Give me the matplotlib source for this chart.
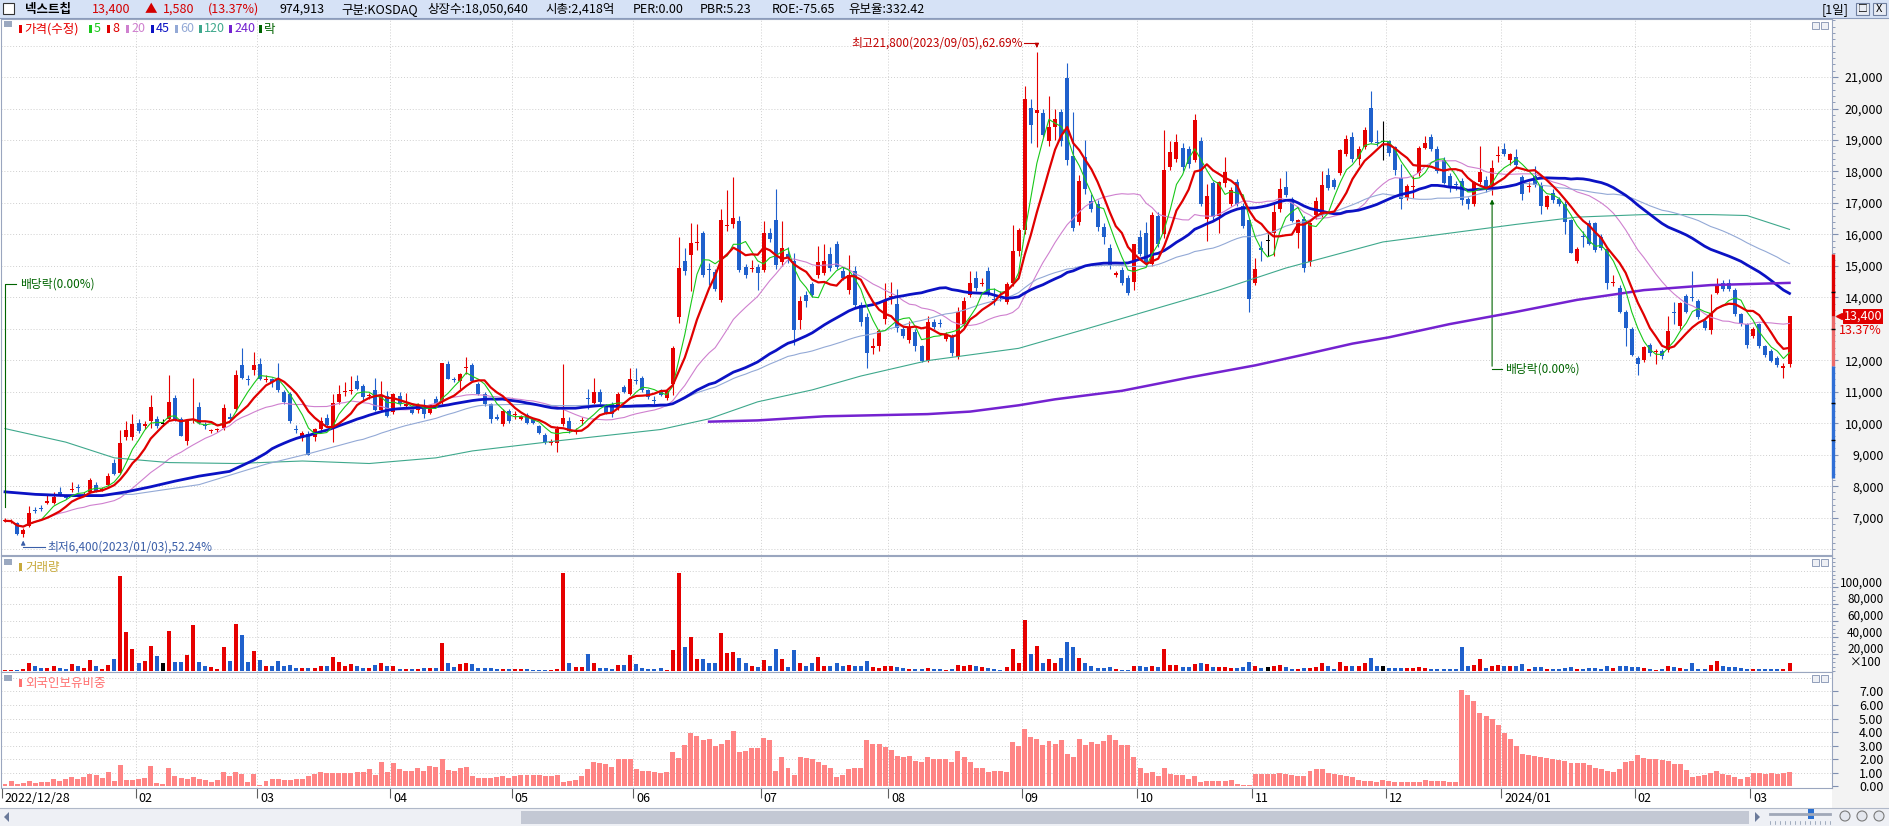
import numpy as np
import pandas as pd
import matplotlib
matplotlib.use("Agg")
import matplotlib.pyplot as plt
import matplotlib.transforms as mtrans
from matplotlib.patches import Rectangle, Polygon, Circle
from matplotlib.ticker import MultipleLocator

plt.rcParams['font.family'] = ['Noto Sans CJK KR', 'DejaVu Sans']
plt.rcParams['font.size'] = 9

# daily candles 2022/12/28 .. 2024/03/12
opens = [
    6880, 6860, 6830, 6480, 6740, 7250, 7300, 7480, 7480, 7820,
    7690, 7880, 7960, 7730, 7820, 8050, 7880, 8050, 8750, 8410,
    9550, 9560, 10020, 9920, 10060, 10140, 9990, 10140, 10800, 10140,
    9420, 10100, 10520, 9940, 9760, 9780, 9860, 10200, 10450, 11840,
    11400, 11680, 11870, 11380, 11400, 11370, 10990, 10940, 9830, 9520,
    9670, 9550, 9830, 10180, 9900, 10680, 10980, 11020, 11340, 11190,
    10850, 11060, 10420, 10880, 10370, 10880, 10560, 10480, 10420, 10570,
    10320, 10760, 10680, 11870, 11400, 11340, 11760, 11840, 11250, 10940,
    10600, 10200, 9980, 10400, 10250, 10150, 10260, 10120, 9900, 9640,
    9380, 9360, 9980, 10060, 9730, 10080, 10780, 10630, 10990, 10570,
    10600, 10480, 11150, 10940, 11350, 11430, 11060, 10740, 11030, 10790,
    11250, 13380, 15160, 15360, 15720, 16040, 14900, 14820, 13920, 16270,
    16320, 16440, 14960, 14900, 14970, 14880, 16040, 16470, 15110, 15390,
    15160, 13270, 14080, 14430, 14700, 14770, 15390, 15700, 14850, 14230,
    14850, 13770, 13380, 12400, 12450, 13300, 14000, 13800, 12990, 12640,
    12890, 12450, 11990, 13230, 13180, 12690, 12760, 12110, 13150, 14080,
    14620, 14430, 14850, 13950, 14000, 13840, 14460, 15470, 16130, 20020,
    19850, 19870, 18970, 19400, 19900, 20980, 18480, 16390, 18450, 17060,
    16960, 16240, 15580, 14720, 14880, 14620, 14490, 15930, 16040, 15050,
    16580, 16010, 18140, 18400, 18740, 18710, 18360, 18970, 16500, 17630,
    16590, 17630, 16970, 17680, 16900, 16470, 14460, 15560, 15780, 16040,
    16810, 17520, 17120, 16040, 16500, 15110, 16630, 16630, 17890, 17740,
    17940, 18560, 19100, 18400, 18790, 20020, 18950, 18940, 18970, 18790,
    17780, 17170, 17500, 17940, 18740, 19100, 18710, 18360, 17860, 17600,
    17710, 17120, 16970, 17680, 17740, 17580, 18480, 18710, 18360, 18450,
    17830, 17500, 17860, 17580, 16860, 17320, 17120, 16970, 16470, 15160,
    15950, 16350, 16350, 15930, 15540, 14450, 14310, 13540, 12990, 12070,
    12020, 12490, 12250, 12300, 12330, 13520, 13080, 14030, 14000, 13880,
    13260, 12950, 14150, 14460, 14460, 14230, 13460, 13150, 12760, 13150,
    12450, 12300, 12070, 11760, 11870,
]
highs = [
    7000, 6950, 6860, 6680, 7360, 7330, 7400, 7740, 7820, 7980,
    7740, 8130, 8080, 7800, 8250, 8120, 7960, 8430, 8850, 9800,
    10080, 10290, 10130, 10060, 10910, 10240, 10130, 11530, 10900, 10200,
    10150, 11450, 10680, 10050, 9830, 9860, 10600, 10330, 11680, 12380,
    11530, 12270, 12070, 11530, 11450, 11900, 11060, 11000, 9950, 9740,
    9740, 9850, 10200, 10290, 10920, 11220, 11300, 11500, 11540, 11250,
    10960, 11440, 11340, 11010, 10960, 10990, 10950, 10560, 10640, 10760,
    10580, 10880, 11910, 11990, 11480, 11600, 12120, 11900, 11300, 11000,
    10650, 10300, 10450, 10450, 10400, 10250, 10320, 10150, 9950, 9680,
    9500, 9900, 11870, 10200, 9850, 10200, 11100, 11450, 11080, 10620,
    10680, 11000, 11200, 11760, 11760, 11500, 11100, 10850, 11100, 11100,
    12450, 15930, 15570, 16350, 16320, 16100, 15080, 14900, 16800, 17400,
    17820, 16600, 15050, 15200, 15050, 16440, 16200, 17430, 16420, 15600,
    15400, 14050, 14200, 14500, 15620, 15700, 15600, 15800, 14950, 15360,
    15000, 13850, 13500, 12700, 13000, 14460, 14500, 14260, 13100, 13250,
    13000, 12500, 13400, 13300, 13300, 12900, 12850, 13700, 14000, 14850,
    14850, 14600, 14950, 14300, 14200, 14500, 16300, 16200, 20720, 20300,
    21800, 20000, 20400, 20000, 20000, 21450, 19900, 17900, 19000, 17300,
    17100, 16350, 15700, 14850, 14950, 14700, 15700, 16150, 16400, 16700,
    16700, 19330, 18970, 19200, 18900, 18800, 19840, 19100, 17600, 17700,
    17700, 18450, 17500, 17750, 17000, 16500, 15260, 15800, 16000, 17000,
    17780, 18000, 17200, 16500, 16600, 16400, 17200, 18000, 18100, 17800,
    18700, 19170, 19250, 18800, 19400, 20560, 19330, 19590, 19000, 18800,
    18250, 17600, 17860, 18800, 19130, 19200, 18800, 18450, 17950, 17700,
    17800, 17200, 17700, 18800, 17850, 18360, 18800, 18900, 18600, 18700,
    17900, 17650, 18170, 17650, 17250, 17450, 17200, 17050, 16500, 15600,
    16100, 16450, 16400, 16000, 15600, 14700, 14400, 13600, 13050, 12150,
    12450, 12550, 12350, 12350, 13400, 13850, 13850, 14100, 14850, 13950,
    13300, 14120, 14620, 14550, 14580, 14300, 13500, 13200, 13050, 13200,
    12500, 12350, 12150, 11900, 13420,
]
lows = [
    6850, 6830, 6440, 6400, 6700, 7150, 7220, 7420, 7430, 7700,
    7600, 7820, 7830, 7700, 7780, 7830, 7850, 7990, 8360, 8380,
    9480, 9480, 9700, 9830, 9840, 9840, 9900, 10080, 10080, 9580,
    9300, 10000, 9980, 9820, 9700, 9730, 9800, 10080, 10380, 11400,
    11220, 11530, 11360, 11300, 11150, 11000, 10600, 10000, 9690, 9420,
    8980, 9450, 9760, 9900, 9400, 10600, 10880, 10940, 11050, 10700,
    10760, 10400, 10380, 10200, 10300, 10560, 10500, 10300, 10340, 10180,
    10290, 10580, 10620, 11400, 11300, 11100, 11550, 11300, 10900, 10560,
    10000, 10100, 9900, 10000, 10150, 10100, 9960, 9980, 9650, 9330,
    9300, 9090, 9900, 9700, 9650, 9950, 10450, 10600, 10600, 10280,
    10200, 10420, 10950, 10900, 11250, 11000, 10780, 10600, 10850, 10750,
    10900, 13180, 14700, 14200, 15500, 14650, 14380, 14200, 13850, 16100,
    16200, 14800, 14600, 14800, 14230, 14800, 15750, 14900, 15000, 15100,
    12480, 13000, 13700, 14000, 14600, 14700, 14850, 14900, 14550, 14100,
    13700, 13100, 11760, 12200, 12300, 13150, 13800, 12900, 12700, 12550,
    12300, 11950, 11950, 13000, 13050, 12600, 12150, 12050, 13050, 14000,
    14200, 14350, 14050, 13750, 13900, 13800, 14350, 15300, 16000, 18900,
    18790, 19100, 18800, 19000, 18800, 18200, 16100, 16300, 17300, 16700,
    16100, 15700, 14900, 14650, 14400, 14080, 14230, 15300, 15000, 15000,
    15600, 15900, 18050, 18300, 18000, 18100, 18300, 16900, 15780, 16450,
    16040, 17500, 16900, 16900, 16200, 13540, 14400, 15150, 15300, 15300,
    16700, 17200, 16400, 15580, 14800, 15000, 16500, 16550, 17400, 17450,
    17900, 18500, 18300, 18200, 18700, 18900, 18800, 18350, 18500, 17900,
    16800, 17100, 17150, 17850, 18700, 18650, 17950, 17600, 17350, 17400,
    16950, 16800, 16900, 17600, 17350, 17250, 18300, 18500, 18200, 18100,
    17100, 17350, 17500, 16650, 16800, 17000, 16900, 16000, 15400, 15100,
    15600, 15650, 15450, 15500, 14280, 14350, 13500, 12450, 12150, 11530,
    11950, 12150, 11870, 12050, 12250, 13150, 13000, 13500, 13900, 13300,
    12950, 12840, 14100, 14200, 14200, 13400, 13100, 12400, 12700, 12400,
    12100, 11950, 11800, 11450, 11780,
]
closes = [
    6900, 6880, 6480, 6600, 7160, 7200, 7260, 7520, 7670, 7700,
    7640, 7910, 7930, 7760, 8210, 7860, 7900, 8320, 8380, 9370,
    9800, 9990, 9750, 9960, 10520, 9900, 9990, 10680, 10100, 9600,
    10060, 10150, 10020, 9900, 9790, 9810, 10480, 10140, 11530, 11450,
    11360, 11840, 11400, 11420, 11300, 11060, 10680, 10060, 9800, 9700,
    8980, 9830, 10060, 9950, 10630, 10940, 11030, 11070, 11100, 10830,
    10900, 10420, 10880, 10220, 10940, 10600, 10620, 10320, 10570, 10290,
    10570, 10600, 11910, 11400, 11360, 11560, 11790, 11340, 10940, 10600,
    10140, 10140, 10400, 10060, 10290, 10190, 10020, 10000, 9700, 9400,
    9400, 9830, 10180, 9750, 9760, 10100, 10760, 10990, 10680, 10320,
    10290, 10940, 10990, 11400, 11330, 11060, 10820, 10720, 10910, 11030,
    12380, 14930, 14850, 15740, 15760, 14700, 14880, 14260, 16470, 16300,
    16520, 14880, 14700, 14930, 14770, 16040, 15850, 15030, 15580, 15240,
    12960, 13890, 13890, 14080, 15130, 15140, 14930, 14960, 14620, 14700,
    13770, 13230, 12220, 12450, 12920, 13890, 14030, 13040, 12760, 13040,
    12450, 11990, 13230, 13070, 13150, 12840, 12220, 13540, 13870, 14460,
    14310, 14460, 14150, 13920, 13970, 14430, 15470, 16130, 20290, 19480,
    19940, 19170, 19400, 19670, 18970, 18360, 16190, 17700, 17430, 16810,
    16240, 15930, 15030, 14770, 14460, 14150, 15700, 15390, 15050, 16620,
    15700, 18050, 18630, 18940, 18140, 18250, 19640, 16960, 17210, 16550,
    17670, 17970, 17400, 16970, 16280, 13950, 14900, 15510, 15780, 16700,
    17430, 17240, 16440, 16470, 14930, 16350, 17060, 17580, 17470, 17520,
    18670, 19020, 18400, 18710, 19330, 18940, 18910, 18940, 18600, 18050,
    17120, 17550, 17520, 18740, 18910, 18710, 18020, 17630, 17470, 17580,
    17090, 16970, 17680, 17970, 17430, 18120, 18510, 18560, 18560, 18200,
    17280, 17520, 17580, 16900, 17210, 17090, 16970, 16390, 15420, 15540,
    15930, 15700, 15510, 15580, 14460, 14490, 13540, 13040, 12170, 11870,
    12420, 12220, 12270, 12150, 12920, 13500, 13820, 13540, 13970, 13380,
    13040, 13500, 14380, 14280, 14280, 13460, 13150, 12490, 12990, 12450,
    12180, 11990, 11840, 11820, 13400,
]
# 거래량, in thousands of the axis unit (axis is x100 shares)
volume_k = [
    1.2, 1.2, 1.2, 1.7, 9.9, 5.2, 3.5, 2.9, 5.2, 3.5,
    2.3, 8.1, 5.8, 2.9, 12.8, 5.2, 2.3, 7.0, 13.9, 114,
    46.4, 26.1, 9.9, 11.6, 30.2, 17.4, 9.3, 47.6, 10.4, 10.4,
    18.6, 54.5, 10.4, 5.2, 4.6, 2.3, 28.4, 11.6, 55.7, 42.9,
    10.4, 23.8, 13.3, 5.8, 5.2, 12.2, 5.8, 7.0, 3.5, 3.5,
    3.5, 3.5, 5.2, 5.2, 16.8, 10.4, 5.2, 8.1, 5.2, 3.5,
    3.5, 6.4, 9.9, 5.2, 5.2, 2.3, 2.3, 1.7, 2.3, 3.5,
    3.5, 3.5, 33.1, 9.3, 4.1, 8.1, 9.9, 8.1, 3.5, 2.9,
    2.9, 2.3, 2.3, 1.7, 2.3, 1.7, 1.7, 1.2, 1.2, 1.2,
    1.2, 2.3, 117, 9.9, 4.6, 4.6, 19.7, 9.3, 3.5, 3.5,
    2.3, 6.4, 6.4, 18.6, 8.1, 3.5, 2.3, 2.3, 3.5, 1.2,
    24.4, 117, 29.0, 40.6, 13.9, 14.5, 9.3, 9.3, 44.7, 20.9,
    22.6, 15.7, 9.3, 5.2, 4.1, 12.8, 5.2, 26.1, 14.5, 4.6,
    24.4, 9.3, 5.2, 9.9, 16.8, 5.2, 5.2, 9.3, 5.2, 6.4,
    5.2, 5.2, 11.6, 4.1, 2.9, 5.2, 5.2, 4.1, 2.9, 1.7,
    2.3, 2.3, 3.5, 2.3, 1.7, 1.2, 2.3, 7.0, 5.2, 6.4,
    5.8, 4.1, 3.5, 2.3, 1.2, 4.1, 26.1, 9.9, 60.9, 19.7,
    30.2, 9.9, 13.9, 9.3, 15.1, 34.2, 28.4, 15.7, 9.9, 5.2,
    3.5, 3.5, 4.1, 2.3, 1.2, 1.2, 5.2, 5.2, 4.1, 5.2,
    4.1, 25.5, 7.0, 7.0, 4.1, 4.1, 8.7, 9.3, 8.7, 4.1,
    4.1, 4.6, 3.5, 3.5, 4.1, 10.4, 5.8, 3.5, 4.1, 5.2,
    7.5, 4.1, 2.3, 2.3, 3.5, 3.5, 4.1, 9.9, 5.2, 2.3,
    11.0, 5.8, 5.2, 5.2, 9.9, 15.1, 5.8, 5.8, 3.5, 3.5,
    3.5, 2.9, 2.9, 4.6, 3.5, 2.3, 2.3, 2.3, 2.3, 2.3,
    29.0, 5.2, 7.0, 13.9, 3.5, 5.8, 7.0, 5.8, 5.2, 5.8,
    8.1, 2.3, 4.6, 4.6, 2.3, 2.3, 2.3, 3.5, 4.6, 1.7,
    2.3, 3.5, 3.5, 2.3, 5.8, 2.9, 5.8, 5.8, 4.6, 4.6,
    3.5, 2.3, 1.2, 2.3, 5.8, 4.6, 3.5, 2.3, 9.3, 2.3,
    2.3, 7.0, 11.6, 5.8, 4.6, 4.6, 3.5, 2.3, 2.3, 2.3,
    2.3, 2.3, 2.3, 2.3, 9.3,
]
# 외국인보유비중 (%)
foreign_pct = [
    0.18, 0.36, 0.18, 0.25, 0.36, 0.25, 0.29, 0.32, 0.5, 0.39,
    0.54, 0.65, 0.54, 0.65, 0.86, 0.79, 0.57, 1.08, 0.36, 1.54,
    0.43, 0.43, 0.54, 0.61, 1.5, 0.25, 0.18, 1.33, 0.72, 0.61,
    0.54, 0.65, 0.54, 0.43, 0.29, 0.43, 1.04, 0.72, 1.04, 0.9,
    0.32, 0.9, 0.07, 0.36, 0.54, 0.5, 0.43, 0.43, 0.5, 0.54,
    0.72, 0.9, 1.08, 1.0, 1.0, 0.97, 0.97, 1.0, 1.08, 1.08,
    1.29, 0.79, 1.79, 1.08, 1.72, 1.25, 1.15, 1.15, 1.36, 1.15,
    1.5, 1.4, 2.0, 1.18, 1.15, 1.33, 1.43, 0.72, 0.61, 0.61,
    0.61, 0.65, 0.72, 0.61, 0.72, 0.79, 0.79, 0.79, 0.79, 0.72,
    0.72, 0.79, 0.29, 0.36, 0.43, 0.72, 1.25, 1.79, 1.72, 1.61,
    1.43, 1.97, 1.97, 2.04, 1.25, 1.15, 1.15, 1.08, 1.0, 1.08,
    2.51, 2.08, 3.05, 3.94, 3.69, 3.4, 3.48, 2.94, 3.15, 3.4,
    4.05, 2.51, 2.62, 2.8, 2.8, 3.58, 3.4, 1.15, 2.15, 1.36,
    0.79, 2.15, 2.08, 1.97, 1.79, 1.54, 1.36, 0.65, 0.79, 1.25,
    1.36, 1.33, 3.4, 3.12, 3.15, 2.87, 2.69, 2.22, 2.15, 2.22,
    1.86, 1.79, 2.15, 1.97, 1.97, 1.97, 1.79, 2.58, 2.15, 1.79,
    1.36, 1.36, 1.08, 1.15, 1.15, 1.08, 3.23, 2.97, 4.23, 3.66,
    3.51, 3.05, 3.33, 3.15, 3.4, 2.4, 2.15, 3.48, 3.05, 3.23,
    3.15, 3.3, 3.76, 3.4, 3.05, 3.05, 2.15, 1.36, 1.0, 1.08,
    0.72, 1.36, 0.9, 0.79, 0.79, 0.54, 0.72, 0.29, 0.36, 0.36,
    0.36, 0.36, 0.43, 0.18, 0.11, 0.11, 0.9, 0.9, 0.9, 0.9,
    0.97, 0.9, 0.79, 0.72, 0.72, 1.15, 1.25, 1.25, 1.0, 0.9,
    0.79, 0.72, 0.65, 0.43, 0.36, 0.36, 0.29, 0.43, 0.36, 0.29,
    0.29, 0.29, 0.29, 0.29, 0.47, 0.36, 0.36, 0.36, 0.29, 0.29,
    7.1, 6.74, 6.27, 5.38, 5.2, 4.95, 4.55, 3.94, 3.51, 2.97,
    2.4, 2.33, 2.26, 2.15, 2.08, 2.0, 1.9, 1.86, 1.72, 1.72,
    1.72, 1.54, 1.36, 1.25, 1.15, 1.08, 1.25, 1.79, 1.86, 2.33,
    2.08, 1.97, 1.97, 1.9, 1.86, 1.61, 1.61, 1.18, 0.65, 0.72,
    0.82, 1.0, 1.15, 0.9, 0.79, 0.65, 0.54, 0.65, 1.0, 0.97,
    0.9, 1.0, 0.9, 1.0, 1.08,
]

# first candle of each month and its label
month_start = [0, 22, 42, 64, 84, 104, 125, 146, 168, 187, 206, 228, 247, 269, 288]
month_labels = ['2022/12/28', '02', '03', '04', '05', '06', '07', '08',
                '09', '10', '11', '12', '2024/01', '02', '03']

# price scale labels shown (13,000 is hidden behind the current-price box)
price_ticks = [7000, 8000, 9000, 10000, 11000, 12000, 14000, 15000, 16000, 17000,
               18000, 19000, 20000, 21000]

# moving averages whose history starts before the window: values
ma45_head_idx = [0, 5, 10, 16, 20, 24, 28, 32, 37, 41, 43]
ma45_head_val = [7820, 7740, 7700, 7700, 7820, 7980, 8160, 8320, 8470, 8830, 9050]
ma60_head_idx = [0, 10, 21, 32, 43, 50, 58]
ma60_head_val = [7800, 7720, 7740, 8050, 8700, 9030, 9450]
ma120_idx = [0, 10, 18, 27, 38, 49, 60, 71, 77, 91, 108, 116, 124, 133, 141, 152, 167,
             178, 189, 200, 211, 227, 238, 249, 259, 270, 281, 287, 294]
ma120_val = [9830, 9400, 8900, 8750, 8720, 8800, 8720, 8900, 9120, 9440, 9800, 10140,
             10680, 11060, 11500, 11990, 12380, 12990, 13610, 14230, 14930, 15760, 16040,
             16320, 16550, 16630, 16630, 16600, 16160]
ma240_idx = [116, 124, 135, 152, 159, 167, 173, 184, 189, 195, 206, 214, 222, 228, 238,
             249, 259, 270, 281, 294]
ma240_val = [10050, 10090, 10220, 10290, 10370, 10570, 10760, 11030, 11220, 11450, 11840,
             12180, 12530, 12730, 13150, 13540, 13920, 14230, 14390, 14460]

n = len(closes)
assert len(opens) == n and len(highs) == n and len(lows) == n
assert len(volume_k) == n and len(foreign_pct) == n

idx = np.arange(n)
o = np.array(opens, float)
h = np.array(highs, float)
l = np.array(lows, float)
c = np.array(closes, float)

UP, DOWN, FLAT = '#e60000', '#1f60cc', '#000000'
colors = np.where(c > o, UP, np.where(c < o, DOWN, FLAT))

C_MA5, C_MA8, C_MA20 = '#19c819', '#e00000', '#cf80cf'
C_MA45, C_MA60, C_MA120, C_MA240 = '#0b12c4', '#93a9d6', '#3ea88c', '#7422d0'
EDGE = '#9aa6bf'
GRID = '#cfcfcf'

W, H = 1889, 826


def px_rect(x0, y0, x1, y1):
    return [x0 / W, 1 - y1 / H, (x1 - x0) / W, (y1 - y0) / H]


fig = plt.figure(figsize=(W / 100, H / 100), dpi=100)

# background: header band, right scale strip, scroll bar
bg = fig.add_axes([0, 0, 1, 1], zorder=0)
bg.set_xlim(0, W)
bg.set_ylim(H, 0)
bg.axis('off')
bg.add_patch(Rectangle((0, 0), W, 18, color='#d6e2f6', lw=0))
bg.plot([0, W], [18, 18], color='#8c9cbc', lw=0.8)
bg.add_patch(Rectangle((1832, 19), 57, 789, color='#f3f3f3', lw=0))
bg.add_patch(Rectangle((0, 808), W, 18, color='#eef0f5', lw=0))
bg.plot([0, W], [808, 808], color='#b0b8c8', lw=0.8)

ax_p = fig.add_axes(px_rect(1, 19, 1832, 555), zorder=1)
ax_v = fig.add_axes(px_rect(1, 556, 1832, 672), zorder=1)
ax_f = fig.add_axes(px_rect(1, 672, 1832, 788), zorder=1)

for ax in (ax_p, ax_v, ax_f):
    ax.set_xlim(-0.66, 301.0)
    ax.set_facecolor('white')
    for s in ax.spines.values():
        s.set_color(EDGE)
        s.set_linewidth(0.8)
    ax.yaxis.tick_right()
    ax.tick_params(axis='y', direction='out', length=4, color='#7f8fb0',
                   labelsize=9, pad=33)
    ax.tick_params(axis='y', which='minor', direction='out', length=2, color='#7f8fb0')
    for m in month_start[1:]:
        ax.axvline(m - 0.5, color=GRID, lw=0.7, ls=(0, (1, 2)), zorder=0)

# ---- price panel ----
ax_p.set_ylim(5813, 22845)
for lvl in range(6000, 23000, 1000):
    ax_p.axhline(lvl, color=GRID, lw=0.7, ls=(0, (1, 2)), zorder=0)
ax_p.set_xticks([])
ax_p.set_yticks(price_ticks)
ax_p.set_yticklabels([f'{v:,}' for v in price_ticks])
ax_p.yaxis.set_minor_locator(MultipleLocator(200))

ax_p.vlines(idx, l, h, colors=colors, lw=0.8, zorder=2)
body_bot = np.minimum(o, c)
body_h = np.maximum(np.abs(c - o), 30)
ax_p.bar(idx, body_h, bottom=body_bot, width=0.66, color=colors, lw=0, zorder=3)

s = pd.Series(c)
ma5 = s.rolling(5, min_periods=1).mean()
ma8 = s.rolling(8, min_periods=1).mean()
ma20 = s.rolling(20, min_periods=1).mean()
ma45 = s.rolling(45).mean()
ma60 = s.rolling(60).mean()

ax_p.plot(idx, ma20, color=C_MA20, lw=0.8, zorder=4)
ax_p.plot(ma120_idx, ma120_val, color=C_MA120, lw=0.8, zorder=4)
ax_p.plot(ma60_head_idx + list(idx[59:]), ma60_head_val + list(ma60[59:]),
          color=C_MA60, lw=0.8, zorder=4)
ax_p.plot(ma45_head_idx + list(idx[44:]), ma45_head_val + list(ma45[44:]),
          color=C_MA45, lw=2.0, zorder=5)
ax_p.plot(ma240_idx, ma240_val, color=C_MA240, lw=1.8, zorder=5)
ax_p.plot(idx, ma5, color=C_MA5, lw=0.8, zorder=5)
ax_p.plot(idx, ma8, color=C_MA8, lw=1.6, zorder=6)

# high / low marks
hi = int(np.argmax(h))
lo = int(np.argmin(l))
RED_TXT, BLUE_TXT, GREEN_TXT = '#c00000', '#3a5ea8', '#006400'
ax_p.text(hi - 2.3, 22082, '최고21,800(2023/09/05),62.69%', ha='right', va='center',
          color=RED_TXT, fontsize=8.5, zorder=7)
ax_p.plot([hi - 2.1, hi], [22082, 22082], color=RED_TXT, lw=0.8, zorder=7)
ax_p.annotate('', xy=(hi, h[hi] + 40), xytext=(hi, 22082),
              arrowprops=dict(arrowstyle='-|>', color=RED_TXT, lw=0.8, mutation_scale=6))
ax_p.text(lo + 3.9, 6067, '최저6,400(2023/01/03),52.24%', ha='left', va='center',
          color=BLUE_TXT, fontsize=8.5, zorder=7)
ax_p.plot([lo, lo + 3.6], [6067, 6067], color=BLUE_TXT, lw=0.8, zorder=7)
ax_p.annotate('', xy=(lo, l[lo] - 40), xytext=(lo, 6067),
              arrowprops=dict(arrowstyle='-|>', color=BLUE_TXT, lw=0.8, mutation_scale=6))

# ex-dividend marks
ax_p.plot([0, 0, 1.8], [7338, 14424, 14424], color=GREEN_TXT, lw=0.8, zorder=7)
ax_p.text(2.4, 14424, '배당락(0.00%)', ha='left', va='center', color=GREEN_TXT,
          fontsize=8.5, zorder=7)
exd = 245
ax_p.plot([exd, exd + 1.6], [11723, 11723], color=GREEN_TXT, lw=0.8, zorder=7)
ax_p.annotate('', xy=(exd, l[exd] - 50), xytext=(exd, 11723),
              arrowprops=dict(arrowstyle='-|>', color=GREEN_TXT, lw=0.8, mutation_scale=6))
ax_p.text(exd + 2.1, 11723, '배당락(0.00%)', ha='left', va='center', color=GREEN_TXT,
          fontsize=8.5, zorder=7)

# right scale: current price box, change, limit band
blend = mtrans.blended_transform_factory(ax_p.transAxes, ax_p.transData)
last, prev = c[-1], c[-2]
ax_p.text((1882 - 1) / 1831, last, f'{int(last):,}', transform=blend, ha='right',
          va='center', color='white', fontsize=9, clip_on=False, zorder=9,
          bbox=dict(facecolor='#e00000', edgecolor='none', pad=0.6))
ax_p.annotate(f'{(last / prev - 1) * 100:.2f}%', xy=((1882 - 1) / 1831, last),
              xycoords=blend, xytext=(0, -10), textcoords='offset points',
              ha='right', va='center', color='#e00000', fontsize=9, annotation_clip=False)
ax_p.plot([(1839 - 1) / 1831], [last], marker='<', color='#e00000', ms=5,
          transform=blend, clip_on=False)
xb = (1833 - 1) / 1831
ax_p.plot([xb, xb], [last, prev * 1.3], color='#e00000', lw=2.4, transform=blend,
          clip_on=False, solid_capstyle='butt', zorder=8)
ax_p.plot([xb, xb], [prev, last], color='#ec6a6a', lw=2.4, transform=blend,
          clip_on=False, solid_capstyle='butt', zorder=8)
ax_p.plot([xb, xb], [prev * 0.7, prev], color='#2f6fd6', lw=2.4, transform=blend,
          clip_on=False, solid_capstyle='butt', zorder=8)
for k in (0.8, 0.9, 1.1, 1.2):
    ax_p.plot([xb], [prev * k], marker='_', color='black', ms=3, mew=1,
              transform=blend, clip_on=False, zorder=9)

# ---- volume panel ----
ax_v.set_ylim(-1436, 137400)
for lvl in range(20000, 120001, 20000):
    ax_v.axhline(lvl, color=GRID, lw=0.7, ls=(0, (1, 2)), zorder=0)
ax_v.bar(idx, np.array(volume_k) * 1000, width=0.66, color=colors, lw=0, zorder=2)
ax_v.set_xticks([])
ax_v.set_yticks(range(20000, 100001, 20000))
ax_v.set_yticklabels([f'{v:,}' for v in range(20000, 100001, 20000)])
ax_v.yaxis.set_minor_locator(MultipleLocator(5000))
vblend = mtrans.blended_transform_factory(ax_v.transAxes, ax_v.transData)
ax_v.text((1882 - 1) / 1831, 9500, '×100', transform=vblend, ha='right', va='center',
          fontsize=8.5, clip_on=False)

# ---- foreign ownership panel ----
ax_f.set_ylim(-0.14, 8.44)
for lvl in range(1, 9):
    ax_f.axhline(lvl, color=GRID, lw=0.7, ls=(0, (1, 2)), zorder=0)
ax_f.bar(idx, foreign_pct, width=0.82, color='#ff8585', lw=0, zorder=2)
ax_f.set_yticks(range(0, 8))
ax_f.set_yticklabels([f'{v:.2f}' for v in range(0, 8)])
ax_f.set_xticks(np.array(month_start) - 0.5)
ax_f.set_xticklabels(month_labels)
ax_f.tick_params(axis='x', direction='out', length=7, color='#606060', pad=-4, labelsize=9)
shift = mtrans.ScaledTranslation(3 / 100, 0, fig.dpi_scale_trans)
for lbl in ax_f.get_xticklabels():
    lbl.set_horizontalalignment('left')
    lbl.set_transform(lbl.get_transform() + shift)

# right-aligned scale labels ending near the right edge
for ax in (ax_p, ax_v, ax_f):
    for lbl in ax.get_yticklabels():
        lbl.set_horizontalalignment('right')
# volume labels sit a little above their ticks, leaving room for the x100 note
lift = mtrans.ScaledTranslation(0, 6 / 100, fig.dpi_scale_trans)
for lbl in ax_v.get_yticklabels():
    lbl.set_fontsize(8.5)
    lbl.set_transform(lbl.get_transform() + lift)

# ---- foreground: header, legends, small widgets ----
fg = fig.add_axes([0, 0, 1, 1], zorder=10)
fg.set_xlim(0, W)
fg.set_ylim(H, 0)
fg.axis('off')
fg.patch.set_alpha(0)

fg.add_patch(Rectangle((3, 3), 11, 11, facecolor='white', edgecolor='#333333', lw=0.8))
header = [(25, '넥스트칩', 'black', 'bold'), (92, '13,400', '#d40000', 'normal'),
          (145, '▲', '#d40000', 'normal'), (163, '1,580', '#d40000', 'normal'),
          (208, '(13.37%)', '#d40000', 'normal'), (279, '974,913', 'black', 'normal'),
          (341, '구분:KOSDAQ', 'black', 'normal'), (427, '상장수:18,050,640', 'black', 'normal'),
          (545, '시총:2,418억', 'black', 'normal'), (633, 'PER:0.00', 'black', 'normal'),
          (700, 'PBR:5.23', 'black', 'normal'), (772, 'ROE:-75.65', 'black', 'normal'),
          (848, '유보율:332.42', 'black', 'normal')]
for x, t, col, wt in header:
    fg.text(x, 9.5, t, color=col, fontweight=wt, fontsize=9, ha='left', va='center')
fg.text(1822, 9.5, '[1일]', fontsize=9, ha='left', va='center')
for bx in (1856, 1873):
    fg.add_patch(Rectangle((bx, 3), 13, 12, facecolor='#e8ecf4', edgecolor='#6f7f9f', lw=0.8))
fg.text(1862.5, 9.5, '□', fontsize=7, ha='center', va='center')
fg.text(1879.5, 9.5, 'X', fontsize=8, ha='center', va='center')

legend = [('가격(수정)', UP, 19), ('5', C_MA5, 89), ('8', C_MA8, 107), ('20', C_MA20, 126),
          ('45', C_MA45, 151), ('60', C_MA60, 175), ('120', C_MA120, 199),
          ('240', C_MA240, 229), ('락', GREEN_TXT, 259)]
fg.add_patch(Rectangle((4, 21), 8, 6, color='#9aa8c0', lw=0))
for t, col, x in legend:
    fg.add_patch(Rectangle((x, 25), 3, 8, color=col, lw=0))
    fg.text(x + 5, 29, t, color=col, fontsize=9, ha='left', va='center')

fg.add_patch(Rectangle((4, 559), 8, 6, color='#9aa8c0', lw=0))
fg.add_patch(Rectangle((19, 563), 3, 8, color='#c8aa3c', lw=0))
fg.text(25, 567, '거래량', color='#c8aa3c', fontsize=9, ha='left', va='center')
fg.add_patch(Rectangle((4, 675), 8, 6, color='#9aa8c0', lw=0))
fg.add_patch(Rectangle((19, 679), 3, 8, color='#ff7070', lw=0))
fg.text(25, 683, '외국인보유비중', color='#ff7070', fontsize=9, ha='left', va='center')

for top in (22, 559, 675):
    for bx in (1812, 1821):
        fg.add_patch(Rectangle((bx, top), 7, 7, facecolor='#eef0f5', edgecolor='#8090b0', lw=0.6))

# scroll bar and zoom buttons
fg.add_patch(Rectangle((521, 811), 1228, 13, color='#c3c8d4', lw=0))
fg.add_patch(Polygon([(4, 817), (9, 812), (9, 822)], color='#6a7a9a', lw=0))
fg.add_patch(Polygon([(1760, 817), (1755, 812), (1755, 822)], color='#6a7a9a', lw=0))
fg.plot([1770, 1830], [814, 814], color='#a0a8b8', lw=2)
fg.add_patch(Rectangle((1808, 809), 6, 10, color='#2a6fd0', lw=0))
for k in range(1770, 1831, 5):
    fg.plot([k, k], [821, 824], color='#8090a8', lw=0.5)
for cx in (1845, 1862, 1879):
    fg.add_patch(Circle((cx, 816), 5, facecolor='#e4e7ee', edgecolor='#7a7a7a', lw=0.8))

fig.savefig('out.png', dpi=100)
